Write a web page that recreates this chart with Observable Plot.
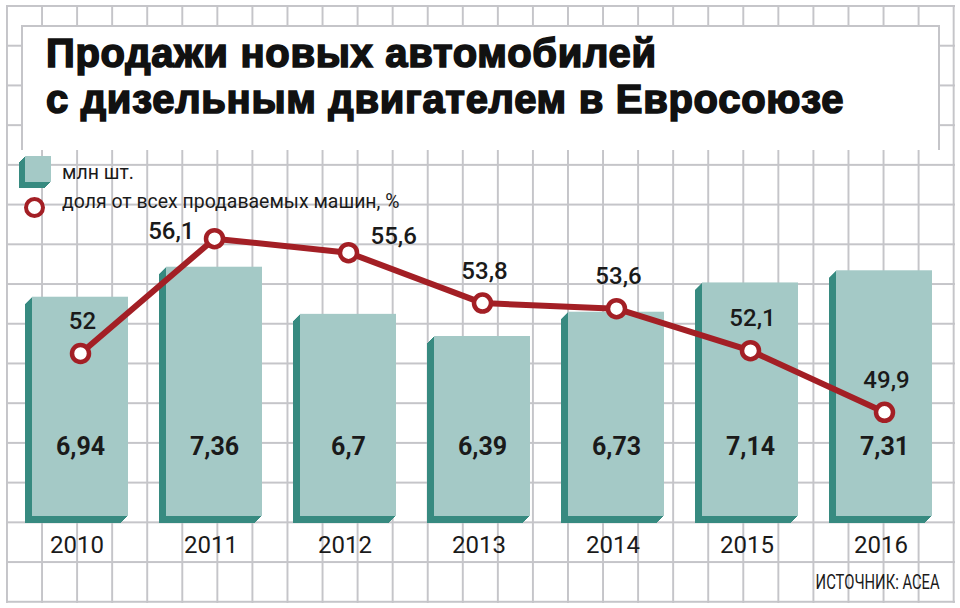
<!DOCTYPE html>
<html>
<head>
<meta charset="utf-8">
<script src="https://cdn.jsdelivr.net/npm/d3@7"></script>
<script src="https://cdn.jsdelivr.net/npm/@observablehq/plot@0.6"></script>
<style>
  html, body { margin: 0; padding: 0; background: #fff; }
  #wrap { position: relative; width: 960px; height: 608px; overflow: hidden; background: #fff; font-family: Roboto, "Liberation Sans", sans-serif; }
  #grid { position: absolute; left: 6px; top: 5px; width: 949px; height: 598px;
    background-image: linear-gradient(to right, #c5c5c9 2px, transparent 2px), linear-gradient(to bottom, #c5c5c9 2px, transparent 2px);
    background-size: 35.07px 39.73px; }
  #titlebox { position: absolute; left: 21px; top: 25px; width: 915px; height: 123px; background: #fff;
    border-left: 2px solid #c5c5c9; border-top: 2px solid #c5c5c9; border-right: 2px solid #c5c5c9; }
  #title { position: absolute; left: 46px; top: 30px; margin: 0; font-family: "Liberation Sans", Arial, sans-serif;
    font-weight: 700; font-size: 40px; line-height: 46px; color: #111; -webkit-text-stroke: 1.6px #111; letter-spacing: 0.7px; white-space: nowrap; }
  .plot { position: absolute; left: 0; top: 0; }
  .leg-sq { position: absolute; left: 25px; top: 156px; width: 26px; height: 26px; background: #a4c9c6;
    box-shadow: -1px 1px 0 #378a80, -2px 2px 0 #378a80, -3px 3px 0 #378a80, -4px 4px 0 #378a80, -5px 5px 0 #378a80, -6px 6px 0 #378a80; }
  .leg-ci { position: absolute; left: 23.5px; top: 196.5px; width: 21px; height: 21px; box-sizing: border-box;
    border: 4.5px solid #a31f25; border-radius: 50%; background: #fff; }
  .leg-tx { position: absolute; left: 62px; font-size: 21px; line-height: 21px; color: #1a1a1a; white-space: nowrap;
    transform: scaleX(0.926); transform-origin: left center; }
  #source { position: absolute; right: 20px; top: 572px; font-size: 20px; line-height: 20px; color: #1a1a1a;
    font-family: "Liberation Sans Narrow", "Roboto", sans-serif; transform: scaleX(0.74); transform-origin: right center; white-space: nowrap; }
</style>
</head>
<body>
<div id="wrap">
  <div id="grid"></div>
  <div id="titlebox"></div>
  <div id="title">Продажи новых автомобилей<br>с дизельным двигателем в Евросоюзе</div>
  <div class="leg-sq"></div>
  <div class="leg-tx" style="top:162px">млн шт.</div>
  <div class="leg-ci"></div>
  <div class="leg-tx" style="top:191px">доля от всех продаваемых машин, %</div>
  <div id="source">ИСТОЧНИК: ACEA</div>
</div>
<script>
// ---- data ----
const years  = ["2010", "2011", "2012", "2013", "2014", "2015", "2016"];
const units  = [6.94, 7.36, 6.7, 6.39, 6.73, 7.14, 7.31];   // млн шт.
const shares = [52, 56.1, 55.6, 53.8, 53.6, 52.1, 49.9];    // доля, %

const rows = years.map((year, i) => ({year, units: units[i], share: shares[i]}));
const fmt = v => String(v).replace(".", ",");

// ---- styling ----
const light = "#a4c9c6", dark = "#378a80", red = "#a31f25", ink = "#1a1a1a";
const barDomain = [3.87, 9.47];
const shareDomain = [48, 58];
const xScale = () => ({domain: years, paddingInner: 0.28, paddingOuter: 0.14});
const common = {width: 960, height: 608, marginLeft: 11, marginRight: 7,
  style: {background: "transparent", overflow: "visible"}};

const wrap = document.getElementById("wrap");

// bars
const depthMarks = d3.range(1, 8).map(d =>
  Plot.barY(rows, {x: "year", y1: () => barDomain[0], y2: "units", fill: dark, dx: -d, dy: d}));
const bars = Plot.plot({
  ...common, marginTop: 116, marginBottom: 92,
  x: xScale(), y: {domain: barDomain, axis: null},
  marks: [
    ...depthMarks,
    Plot.barY(rows, {x: "year", y1: () => barDomain[0], y2: "units", fill: light}),
    Plot.text(rows, {x: "year", frameAnchor: "bottom", dy: -62, text: d => fmt(d.units),
      fontSize: 25, fontWeight: 700, fill: ink, fontFamily: "Roboto, sans-serif"}),
    Plot.axisX({tickSize: 0, tickPadding: 19, dx: -3.5, fontSize: 24, label: null, fill: ink,
      fontFamily: "'Liberation Sans Narrow', Roboto, sans-serif"})
  ]
});
bars.classList.add("plot");
wrap.appendChild(bars);

// share line
const labelFont = {fontSize: 24, fontWeight: 500, fill: ink, fontFamily: "Roboto, sans-serif", text: d => fmt(d.share)};
const line = Plot.plot({
  ...common, marginTop: 185, marginBottom: 143,
  x: {...xScale(), axis: null}, y: {domain: shareDomain, axis: null},
  marks: [
    Plot.lineY(rows, {x: "year", y: "share", stroke: red, strokeWidth: 6}),
    Plot.dot(rows, {x: "year", y: "share", r: 8.5, fill: "white", stroke: red, strokeWidth: 4.5}),
    Plot.text(rows.filter(d => d.year !== "2011" && d.year !== "2012"),
      {x: "year", y: "share", dy: -32, dx: 2, ...labelFont}),
    Plot.text(rows.filter(d => d.year === "2011"),
      {x: "year", y: "share", dy: -7, dx: -20, textAnchor: "end", ...labelFont}),
    Plot.text(rows.filter(d => d.year === "2012"),
      {x: "year", y: "share", dy: -16, dx: 22, textAnchor: "start", ...labelFont})
  ]
});
line.classList.add("plot");
wrap.appendChild(line);
</script>
</body>
</html>
